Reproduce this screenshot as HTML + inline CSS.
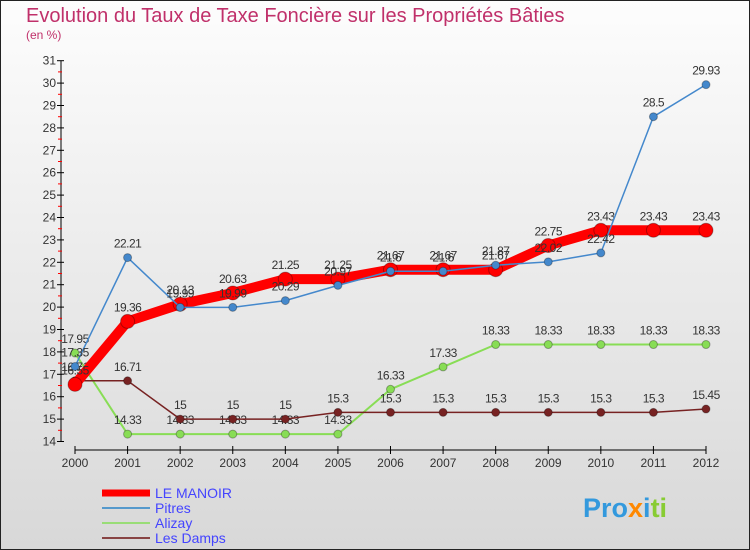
<!DOCTYPE html>
<html><head><meta charset="utf-8"><style>
body{margin:0;}
#wrap{position:relative;width:750px;height:550px;overflow:hidden;}
svg text{font-family:"Liberation Sans",sans-serif;}
</style></head><body>
<div id="wrap">
<svg id="svg" width="750" height="550" xmlns="http://www.w3.org/2000/svg">
<defs><linearGradient id="bg" x1="0" y1="0" x2="0" y2="1"><stop offset="0" stop-color="#fdfdfd"/><stop offset="1" stop-color="#d8d8d8"/></linearGradient></defs>
<rect x="0.5" y="0.5" width="749" height="549" fill="url(#bg)" stroke="#222"/>
<text x="26" y="22" font-size="20" fill="#c0306a">Evolution du Taux de Taxe Foncière sur les Propriétés Bâties</text>
<text x="26" y="39" font-size="12" fill="#c0306a">(en %)</text>
<g id="axes"></g><g id="series"></g>
<g>
<line x1="102" y1="493" x2="150" y2="493" stroke="#f00" stroke-width="7"/>
<text x="155" y="498" font-size="14" fill="#4444ff">LE MANOIR</text>
<line x1="102" y1="508" x2="150" y2="508" stroke="#5599cc" stroke-width="2"/>
<text x="155" y="513" font-size="14" fill="#4444ff">Pitres</text>
<line x1="102" y1="523" x2="150" y2="523" stroke="#99dd77" stroke-width="2"/>
<text x="155" y="528" font-size="14" fill="#4444ff">Alizay</text>
<line x1="102" y1="538" x2="150" y2="538" stroke="#884444" stroke-width="2"/>
<text x="155" y="543" font-size="14" fill="#4444ff">Les Damps</text>
</g>
<text x="583" y="517" font-size="27" font-weight="bold"><tspan fill="#3399dd">Pro</tspan><tspan fill="#ff8800">x</tspan><tspan fill="#3399dd">i</tspan><tspan fill="#88cc33">ti</tspan></text>
</svg></div>
<script>
const years=[2000,2001,2002,2003,2004,2005,2006,2007,2008,2009,2010,2011,2012];
const manoir=[16.55,19.36,20.13,20.63,21.25,21.25,21.67,21.67,21.67,22.75,23.43,23.43,23.43];
const pitres=[17.35,22.21,19.99,19.99,20.29,20.97,21.6,21.6,21.87,22.02,22.42,28.5,29.93];
const alizay=[17.95,14.33,14.33,14.33,14.33,14.33,16.33,17.33,18.33,18.33,18.33,18.33,18.33];
const damps=[16.71,16.71,15,15,15,15.3,15.3,15.3,15.3,15.3,15.3,15.3,15.45];
const yTicks=[14,15,16,17,18,19,20,21,22,23,24,25,26,27,28,29,30,31];
const NS='http://www.w3.org/2000/svg';
const X=i=>75+i*(706-75)/12;
const Y=v=>441.5-(v-14)*22.4;
function mk(t,a,p){const e=document.createElementNS(NS,t);for(const k in a)e.setAttribute(k,a[k]);p.appendChild(e);return e;}
const ax=document.getElementById('axes');
let yl=mk('line',{x1:61,y1:Y(31),x2:61,y2:Y(14),stroke:'#000'},ax);


let xl=mk('line',{x1:75,y1:450,x2:706,y2:450,stroke:'#000'},ax);


yTicks.forEach(v=>{
 mk('line',{x1:57,y1:Y(v),x2:64,y2:Y(v),stroke:'#000'},ax);
 if(v<31)mk('line',{x1:58,y1:Y(v+0.5),x2:62,y2:Y(v+0.5),stroke:'#f00'},ax);
 const t=mk('text',{x:56,y:Y(v)+4,'font-size':12,'text-anchor':'end',fill:'#333'},ax);t.textContent=v;
 
 
});
years.forEach((y,i)=>{
 mk('line',{x1:X(i),y1:446,x2:X(i),y2:454,stroke:'#000'},ax);
 const t=mk('text',{x:X(i),y:467,'font-size':12,'text-anchor':'middle',fill:'#333'},ax);t.textContent=y;
 
 
});
const sg=document.getElementById('series');
function series(vals,color,w,r,name){
 const g=mk('g',{},sg);
 
 
 mk('polyline',{points:vals.map((v,i)=>X(i)+','+Y(v)).join(' '),fill:'none',stroke:color,'stroke-width':w,'stroke-linejoin':'round'},g);
 vals.forEach((v,i)=>{
  const c=mk('circle',{cx:X(i),cy:Y(v),r:r,fill:color,stroke:'rgba(0,0,0,0.3)'},g);
  
  
  const t=mk('text',{x:X(i),y:Y(v)-10,'font-size':12,'text-anchor':'middle',fill:'#333','letter-spacing':'-0.5'},g);
  t.textContent=v;
  
  
 });
}
series(alizay,'#88dd55',2,4,'alizay');
series(damps,'#772222',1.5,4,'les-damps');
series(manoir,'#ff0000',10,7,'le-manoir');
series(pitres,'#4488cc',1.5,4,'pitres');
</script>
</body></html>
